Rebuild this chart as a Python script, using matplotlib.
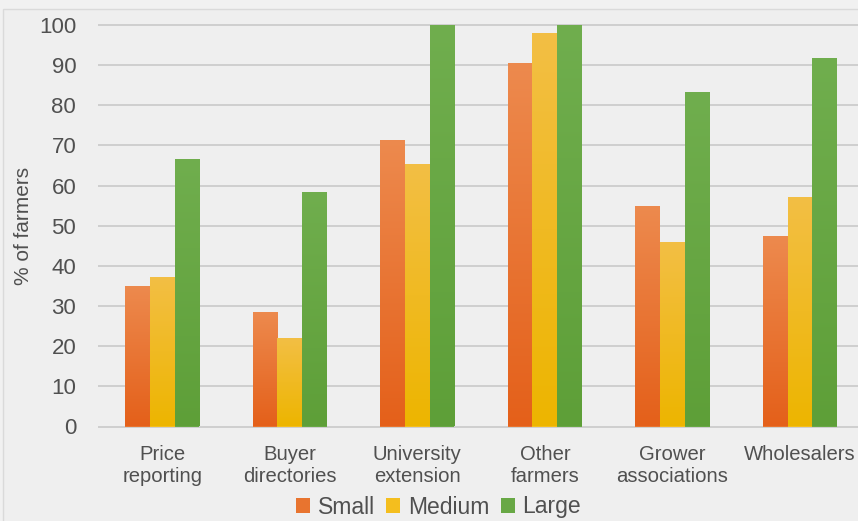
import numpy as np
import matplotlib
matplotlib.use("Agg")
import matplotlib.pyplot as plt
from matplotlib.colors import LinearSegmentedColormap
from matplotlib.patches import Rectangle

# Share of farmers using each information source, by farm size
categories = ["Price\nreporting", "Buyer\ndirectories", "University\nextension",
              "Other\nfarmers", "Grower\nassociations", "Wholesalers"]
small = [35.0, 28.5, 71.4, 90.6, 55.0, 47.4]
medium = [37.2, 22.0, 65.4, 97.9, 46.0, 57.1]
large = [66.7, 58.3, 100.0, 100.0, 83.3, 91.7]
series_names = ["Small", "Medium", "Large"]
yticks = list(range(0, 101, 10))

# (top colour, bottom colour) for each series' vertical gradient
palettes = [("#ED8A4E", "#E4601A"),
            ("#F3BF45", "#EDB500"),
            ("#70AE4E", "#5E9F38")]
base_colors = ["#E8742F", "#F4BE1E", "#68A845"]

W, H, DPI = 858, 521, 100
fig = plt.figure(figsize=(W / DPI, H / DPI), dpi=DPI, facecolor="#f1f1f1")
plt.rcParams["font.family"] = ["Liberation Sans", "DejaVu Sans"]
text_color = "#505050"

# faint frame around the chart area
fig.patches.append(Rectangle((3 / W, -0.1), 1.2, (H - 9) / H + 0.1,
                             transform=fig.transFigure, facecolor="#efefef",
                             edgecolor="#dadada", lw=1.0, zorder=-10))

# axes geometry (pixels)
px_per_cat = 127.56
left_px = 98.4
y0_px, y100_px = 426.5, 25.0
px_per_unit = (y0_px - y100_px) / 100.0
ylo, yhi = -0.4, 100.4
ax_bottom = (H - y0_px) + ylo * px_per_unit
ax_top = (H - y100_px) + (yhi - 100) * px_per_unit
ax = fig.add_axes([left_px / W, ax_bottom / H, (W - left_px) / W, (ax_top - ax_bottom) / H])
ax.set_facecolor("none")
ax.set_xlim(-0.5, -0.5 + (W - left_px) / px_per_cat)
ax.set_ylim(ylo, yhi)

x = np.arange(len(categories))
bw = 0.194
handles = []
for i, (vals, name) in enumerate(zip([small, medium, large], series_names)):
    bars = ax.bar(x + (i - 1) * bw, vals, width=bw, color=base_colors[i],
                  linewidth=0, label=name, zorder=3)
    handles.append(bars)
    cmap = LinearSegmentedColormap.from_list(name, [palettes[i][1], palettes[i][0]])
    grad = np.linspace(0, 1, 256).reshape(-1, 1)
    for b in bars:
        bx, bh = b.get_x(), b.get_height()
        im = ax.imshow(grad, cmap=cmap, origin="lower", aspect="auto",
                       extent=(bx, bx + b.get_width(), 0, bh), zorder=4,
                       interpolation="bicubic")
        im.set_clip_path(b)

ax.set_xlim(-0.5, -0.5 + (W - left_px) / px_per_cat)
ax.set_ylim(ylo, yhi)

for v in yticks:
    ax.axhline(v, color="#c9c9c9", lw=1.2, zorder=1)

for s in ax.spines.values():
    s.set_visible(False)

ax.set_yticks(yticks)
ax.set_yticklabels([str(v) for v in yticks], fontsize=16, color=text_color)
ax.set_xticks(x)
ax.set_xticklabels(categories, fontsize=14.6, color=text_color, linespacing=1.2)
ax.tick_params(axis="y", length=0, pad=16)
ax.tick_params(axis="x", length=0, pad=12)

fig.text(24 / W, (H - 225.5) / H, "% of farmers", rotation=90, ha="center",
         va="center", fontsize=15, color=text_color)

leg = fig.legend(handles=handles, labels=series_names, loc="center",
                 bbox_to_anchor=(438.5 / W, (H - 507) / H), ncol=3,
                 frameon=False, fontsize=16.5, handlelength=0.6,
                 handleheight=0.65, handletextpad=0.35, columnspacing=0.5,
                 borderpad=0, labelcolor=text_color)

fig.savefig("out.png", dpi=DPI, facecolor=fig.get_facecolor())
